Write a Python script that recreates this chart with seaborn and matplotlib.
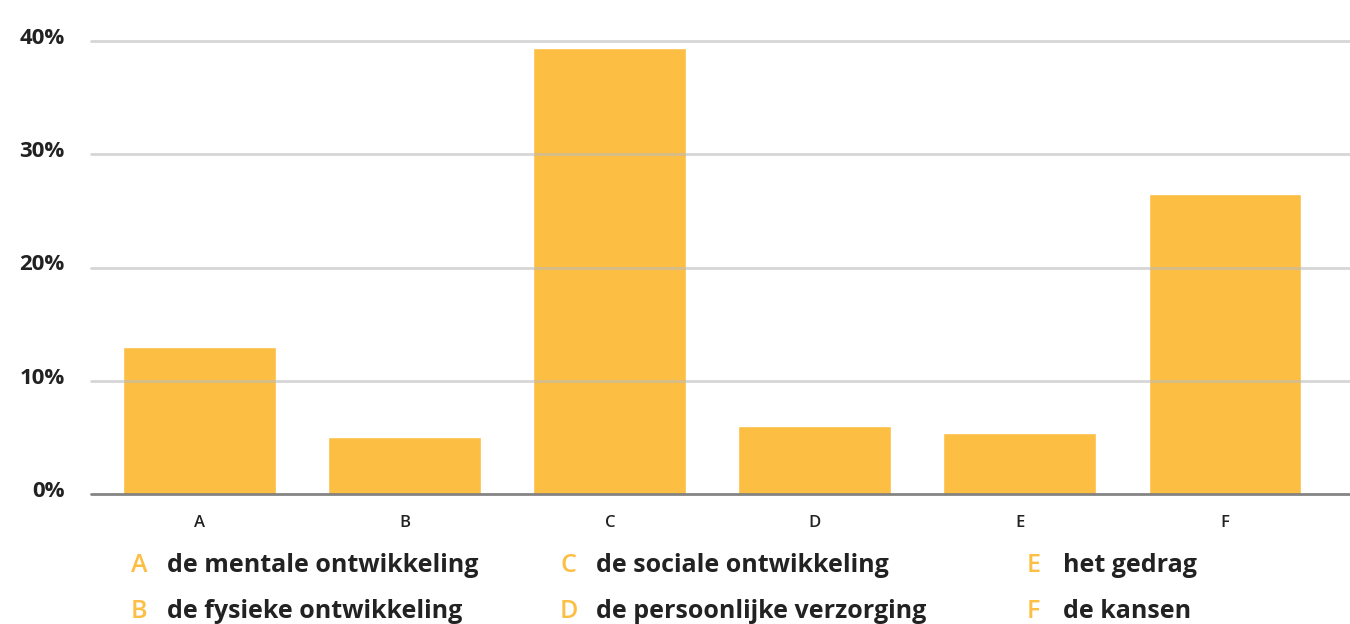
import pandas as pd
import matplotlib.pyplot as plt
import matplotlib.transforms as mtransforms
import seaborn as sns

# values (percent)
letters = ["A", "B", "C", "D", "E", "F"]
values = [13.0, 5.0, 39.4, 6.0, 5.4, 26.5]
descriptions = [
    "de mentale ontwikkeling",
    "de fysieke ontwikkeling",
    "de sociale ontwikkeling",
    "de persoonlijke verzorging",
    "het gedrag",
    "de kansen",
]
yticks = [0, 10, 20, 30, 40]

bar_color = "#FDBE44"
text_color = "#222222"

sns.set_style("white")
plt.rcParams["font.family"] = ["Open Sans", "DejaVu Sans"]

data = pd.DataFrame({"letter": letters, "value": values})

fig = plt.figure(figsize=(13.5, 6.24), dpi=100)
ax = fig.add_axes([91 / 1350, 130 / 624, 1 - 91 / 1350, (494 - 41) / 624])

sns.barplot(data=data, x="letter", y="value", color=bar_color, width=0.745,
            saturation=1, ax=ax, zorder=1)

ax.set_xlim(-0.53, 5.61)
ax.set_ylim(0, 40)
ax.set_yticks(yticks)
ax.set_yticklabels([f"{t}%" for t in yticks])

# gridlines drawn over the bars, semi transparent
for t in yticks[1:]:
    ax.axhline(t, color="#bbbbbb", lw=2, alpha=0.6, zorder=3, clip_on=False)
ax.axhline(0, color="#777777", lw=2, alpha=0.9, zorder=3, clip_on=False)

sns.despine(ax=ax, left=True, bottom=True, top=True, right=True)
ax.set_xlabel("")
ax.set_ylabel("")
ax.tick_params(axis="y", length=0, pad=19, labelsize=16, labelcolor=text_color)
ax.tick_params(axis="x", length=0, pad=15, labelsize=12, labelcolor=text_color)
shift = mtransforms.ScaledTranslation(0, 5 / 100, fig.dpi_scale_trans)
for lab in ax.get_yticklabels():
    lab.set_fontweight("bold")
    lab.set_transform(lab.get_transform() + shift)
for lab in ax.get_xticklabels():
    lab.set_fontweight("semibold")

# letter legend below the chart
col_x = [131, 560, 1027]
row_y = [566, 612]
for i, (let, desc) in enumerate(zip(letters, descriptions)):
    cx = col_x[i // 2]
    cy = row_y[i % 2]
    fig.text(cx / 1350, 1 - cy / 624, let, color=bar_color, fontsize=18,
             fontweight="semibold", va="center", ha="left")
    fig.text((cx + 36) / 1350, 1 - cy / 624, desc, color=text_color, fontsize=18,
             fontweight="bold", va="center", ha="left")

plt.savefig("out.png", dpi=100)
